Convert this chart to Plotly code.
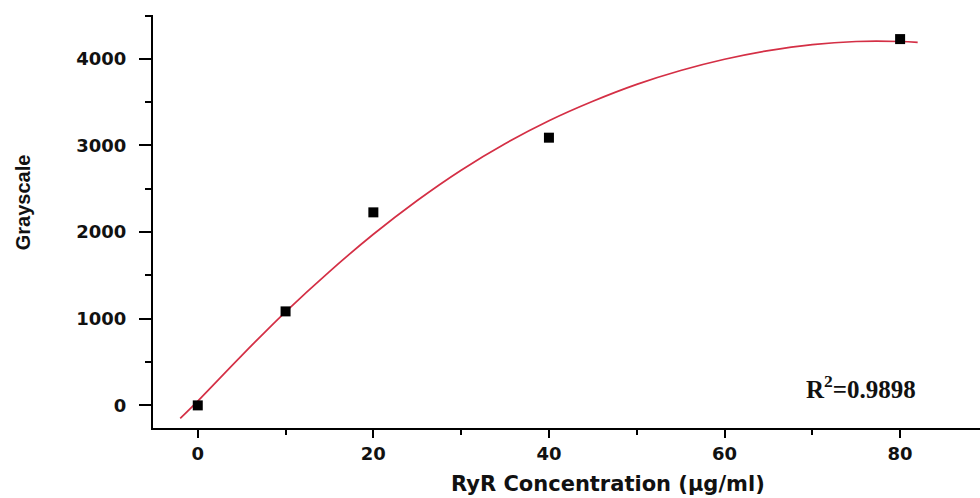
import plotly.graph_objects as go

# Measured data points
conc = [0, 10, 20, 40, 80]
gray = [0, 1085, 2228, 3090, 4228]

# Fitted curve
fit_x = [-2, 0, 5, 10, 15, 20, 25, 30, 35, 40, 45, 50, 55, 60, 65, 70, 75, 80, 82]
fit_y = [-150, 50, 575, 1080, 1545, 1975, 2365, 2715, 3020, 3285, 3510, 3705, 3865, 3995, 4095, 4165, 4200, 4200, 4190]

x_ticks = [0, 20, 40, 60, 80]
y_ticks = [0, 1000, 2000, 3000, 4000]

fig = go.Figure()
fig.add_trace(go.Scatter(x=fit_x, y=fit_y, mode="lines",
                         line=dict(color="#d42f45", width=1.7, shape="spline", smoothing=1.0),
                         showlegend=False, hoverinfo="skip"))
fig.add_trace(go.Scatter(x=conc, y=gray, mode="markers",
                         marker=dict(symbol="square", size=10, color="black"),
                         showlegend=False))

tickfont = dict(family="DejaVu Sans", size=18, color="#111", weight="bold")
fig.update_xaxes(range=[-5.1, 89.1], tickvals=x_ticks, showgrid=False, zeroline=False,
                 showline=True, linecolor="black", linewidth=2,
                 ticks="outside", ticklen=8, tickwidth=2, tickcolor="black",
                 tickfont=tickfont,
                 minor=dict(ticks="outside", ticklen=5, tickwidth=2, tickcolor="black", dtick=10, tick0=0))
fig.update_yaxes(range=[-261, 4506], tickvals=y_ticks, showgrid=False, zeroline=False,
                 showline=True, linecolor="black", linewidth=2,
                 ticks="outside", ticklen=12, tickwidth=2, tickcolor="black",
                 tickfont=tickfont, ticklabelstandoff=9,
                 minor=dict(ticks="outside", ticklen=6, tickwidth=2, tickcolor="black", dtick=500, tick0=0))

fig.add_annotation(text="<b>RyR Concentration (μg/ml)</b>", xref="paper", yref="paper",
                   x=0.55, y=-0.136, xanchor="center", yanchor="middle", showarrow=False,
                   font=dict(family="DejaVu Sans", size=21, color="#111"))
fig.add_annotation(text="<b>Grayscale</b>", xref="paper", yref="paper",
                   x=-0.157, y=0.547, xanchor="center", yanchor="middle", showarrow=False,
                   textangle=-90, font=dict(family="Liberation Sans Narrow, Liberation Sans", size=20, color="#111"))
fig.add_annotation(text="<b>R<sup>2</sup>=0.9898</b>", xref="paper", yref="paper",
                   x=0.856, y=0.099, xanchor="center", yanchor="middle", showarrow=False,
                   font=dict(family="Liberation Serif", size=25, color="#111"))

fig.update_layout(width=980, height=498, plot_bgcolor="white", paper_bgcolor="white",
                  margin=dict(l=153, r=0, t=15, b=70, autoexpand=False))
fig.write_html("out.html", config={"displayModeBar": False},
               post_script="document.body.style.margin='0px';")
